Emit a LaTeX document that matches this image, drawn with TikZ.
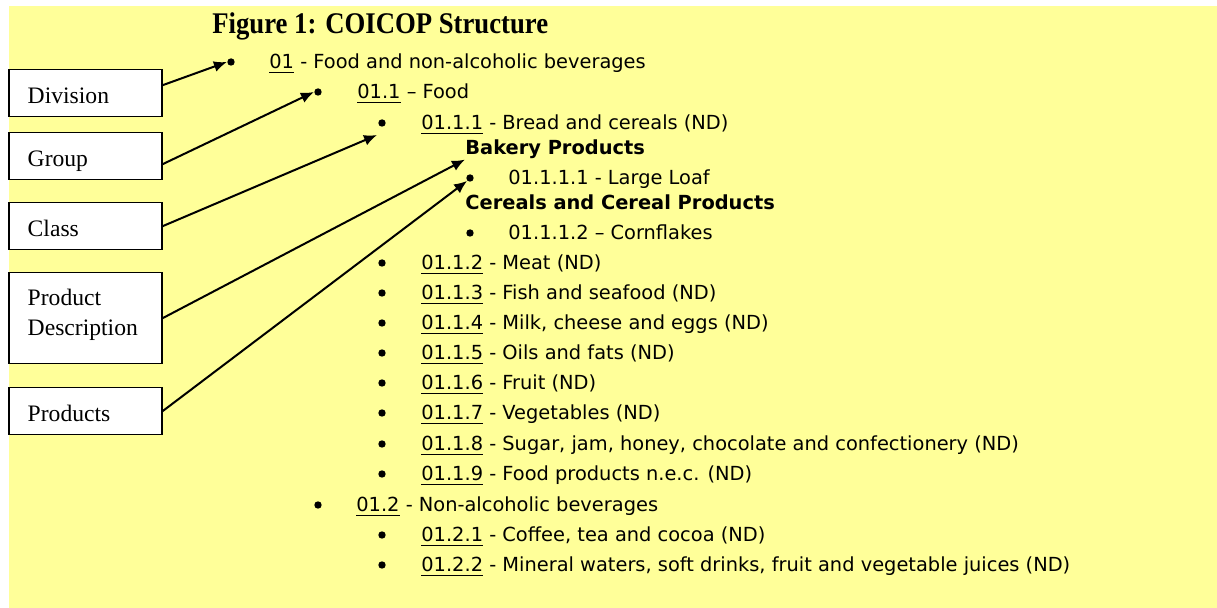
\documentclass[tikz,border=0pt]{standalone}
\usepackage{fontspec}
\setmainfont{Liberation Serif}
\newfontfamily\listfont{DejaVu Sans}
\newfontfamily\titlefont[FakeStretch=0.89]{Liberation Serif}
\usetikzlibrary{arrows,arrows.meta,shapes}
\definecolor{notepad}{HTML}{FFFF99}
\tikzstyle{figtitle}=[anchor=base west,inner sep=0pt,font=\titlefont\bfseries\fontsize{15}{18}\selectfont]
\tikzstyle{levelbox}=[draw,line width=0.75pt,fill=white,anchor=north west,minimum width=76.5pt,minimum height=23.5pt,inner xsep=9.5pt,text width=57.5pt,align=left,text height=10.5pt,text depth=0pt,font=\fontsize{11.8}{15}\selectfont]
\tikzstyle{descbox}=[minimum height=45.5pt,text height=8pt,text depth=20.5pt]
\tikzstyle{itemdot}=[circle,fill=black,minimum size=3.7pt,inner sep=0pt]
\tikzstyle{entry}=[anchor=base west,inner sep=0pt,font=\listfont\fontsize{9.7}{12}\selectfont]
\tikzstyle{heading}=[entry,font=\listfont\bfseries\fontsize{9.7}{12}\selectfont]
\tikzstyle{pointer}=[draw,line width=1pt,-{Latex[length=6.5pt,width=5.5pt]}]
\newcommand{\codeline}[1]{\underline{#1}}

\begin{document}
\begin{tikzpicture}[x=0.5pt,y=-0.5pt]
    % Sheet and heading
    \useasboundingbox (0,0) rectangle (1217,608);
    \fill[notepad] (9,6) rectangle (1217,608);
    \node[figtitle] (title) at (212,34) {Figure 1: COICOP Structure};

    % First we draw the level boxes
    \foreach \pos/\name/\txt in {{(8,69)/div/Division}, {(8,132)/grp/Group}, {(8,202)/cls/Class}, {(8,387)/prod/Products}}
        \node[levelbox] (\name) at \pos {\txt};
    \node[levelbox,descbox] (desc) at (8,272) {Product\\Description};

    % Then the bullets and the coded entries
    \foreach \y/\bx/\tx/\name/\code/\desc in {62/231/269/01/01/{- Food and non-alcoholic beverages},
        92/318/357/011/01.1/{– Food}, 123/382/421/0111/01.1.1/{- Bread and cereals (ND)},
        263/382/421/0112/01.1.2/{- Meat (ND)}, 293/382/421/0113/01.1.3/{- Fish and seafood (ND)},
        323/382/421/0114/01.1.4/{- Milk, cheese and eggs (ND)}, 353/382/421/0115/01.1.5/{- Oils and fats (ND)},
        383/382/421/0116/01.1.6/{- Fruit (ND)}, 413/382/421/0117/01.1.7/{- Vegetables (ND)},
        444/382/421/0118/01.1.8/{- Sugar, jam, honey, chocolate and confectionery (ND)},
        474/382/421/0119/01.1.9/{- Food products n.e.c. (ND)}, 505/318/356/012/01.2/{- Non-alcoholic beverages},
        535/382/421/0121/01.2.1/{- Coffee, tea and cocoa (ND)},
        565/382/421/0122/01.2.2/{- Mineral waters, soft drinks, fruit and vegetable juices (ND)}}
    {
        \node[itemdot] (d\name) at (\bx,\y) {};
        \node[entry] (t\name) at (\tx,\y+7) {\codeline{\code} \desc};
    }

    % Product headings and products
    \node[heading] (bakery) at (465,155) {Bakery Products};
    \node[itemdot] (d01111) at (470,178) {};
    \node[entry] (t01111) at (508,185) {01.1.1.1 - Large Loaf};
    \node[heading] (cereal) at (465,210) {Cereals and Cereal Products};
    \node[itemdot] (d01112) at (470,233) {};
    \node[entry] (t01112) at (508,240) {01.1.1.2 – Cornflakes};
    \coordinate (clstip) at (377,135);

    % Connect boxes with their levels
    \foreach \source/\shift/\dest in {div/4pt/d01.west, grp/-4pt/d011.west, cls/0pt/clstip,
        desc/0pt/bakery.south west, prod/0pt/d01111.south west}
        \path[pointer] ([yshift=\shift]\source.east) -- (\dest);
\end{tikzpicture}
\end{document}
